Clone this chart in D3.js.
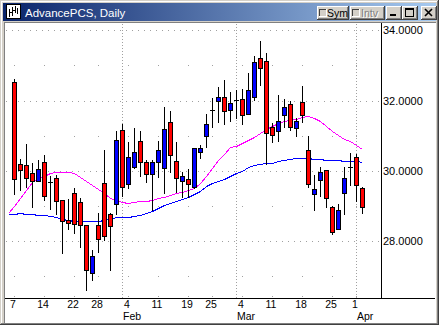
<!DOCTYPE html>
<html>
<head>
<meta charset="utf-8">
<script src="https://cdn.jsdelivr.net/npm/d3@7"></script>
<style>
body { margin: 0; background: #d4d0c8; }
svg { display: block; font-family: "Liberation Sans", Arial, sans-serif; }
</style>
</head>
<body>
<svg id="chart"></svg>
<script>
let title = "AdvancePCS, Daily"

let dates = [
  "2002-01-07","2002-01-08","2002-01-09","2002-01-10","2002-01-11",
  "2002-01-14","2002-01-15","2002-01-16","2002-01-17","2002-01-18",
  "2002-01-22","2002-01-23","2002-01-24","2002-01-25",
  "2002-01-28","2002-01-29","2002-01-30","2002-01-31","2002-02-01",
  "2002-02-04","2002-02-05","2002-02-06","2002-02-07","2002-02-08",
  "2002-02-11","2002-02-12","2002-02-13","2002-02-14","2002-02-15",
  "2002-02-19","2002-02-20","2002-02-21","2002-02-22",
  "2002-02-25","2002-02-26","2002-02-27","2002-02-28","2002-03-01",
  "2002-03-04","2002-03-05","2002-03-06","2002-03-07","2002-03-08",
  "2002-03-11","2002-03-12","2002-03-13","2002-03-14","2002-03-15",
  "2002-03-18","2002-03-19","2002-03-20","2002-03-21","2002-03-22",
  "2002-03-25","2002-03-26","2002-03-27","2002-03-28",
  "2002-04-01","2002-04-02"
]

let open = [32.53,30.19,30.16,29.93,29.71, 30.25,29.67,29.79,29.17,28.60,
  29.36,29.11,28.46,27.09, 28.46,29.65,28.76,29.06,31.17, 29.63,30.12,30.85,30.25,29.91,
  30.25,30.08,31.39,30.28,29.71, 29.77,29.55,30.53,31.00, 31.72,31.98,32.10,31.74,32.02,
  32.04,31.62,32.09,33.21,33.14, 31.26,31.14,31.59,31.90,31.23, 31.96,30.60,29.34,29.74,30.01,
  28.97,28.34,29.36,30.12, 30.39,29.51]
let high = [32.61,30.33,30.77,30.22,30.31, 30.46,29.84,29.88,29.17,29.19,
  29.52,29.22,28.46,27.73, 28.79,30.60,28.79,31.14,31.33, 30.81,31.22,31.14,30.31,30.31,
  30.86,31.81,31.71,30.83,29.96, 30.06,30.65,30.74,31.62, 32.07,32.38,32.59,32.24,32.31,
  32.33,32.78,33.28,33.70,33.35, 31.36,32.17,32.05,32.00,31.50, 32.42,31.00,29.89,30.11,30.01,
  29.00,29.06,30.11,30.50, 30.48,29.55]
let low = [29.34,29.46,29.54,28.98,29.70, 29.17,28.92,28.77,27.66,28.34,
  28.23,27.84,26.59,26.89, 27.70,28.03,27.16,28.77,29.27, 29.51,30.08,29.84,29.67,28.87,
  29.82,29.38,29.98,29.41,29.25, 29.25,29.51,30.36,30.69, 31.25,31.38,31.33,31.42,31.50,
  31.33,31.62,32.02,32.45,30.20, 30.83,30.85,31.26,31.15,30.98, 31.40,29.55,28.89,29.27,28.98,
  28.20,28.34,28.78,29.60, 29.13,28.79]
let close = [29.77,30.02,29.80,29.71,30.05, 29.28,29.67,29.13,28.58,28.51,
  28.49,28.46,27.17,27.56, 28.05,28.13,28.44,30.88,29.54, 30.39,30.53,30.25,29.91,30.25,
  30.60,31.20,30.45,29.79,29.86, 29.62,30.65,30.65,31.33, 31.72,32.10,31.70,31.93,32.02,
  31.59,32.29,33.10,32.93,31.07, 31.03,31.42,31.81,31.26,31.42, 31.58,29.62,29.48,29.96,29.22,
  28.25,28.89,29.79,30.12, 29.59,28.96]

// moving averages start one session before the first candle
let maFast = [28.81,29.00,29.23,29.46,29.67,29.79,29.86,29.93,29.96,29.98,29.97,
  29.93,29.81,29.72,29.60,29.47,29.37,29.22,29.17,29.12,29.08,29.10,29.13,29.15,29.17,
  29.22,29.26,29.30,29.36,29.40,29.44,29.52,29.66,29.86,30.09,30.31,30.48,30.67,30.71,
  30.80,30.87,30.97,31.08,31.18,31.28,31.36,31.41,31.44,31.48,31.54,31.57,31.51,31.41,
  31.28,31.13,31.01,30.91,30.84,30.74,30.63]
let maSlow = [28.77,28.78,28.79,28.77,28.76,28.75,28.73,28.70,28.68,28.64,28.60,
  28.58,28.56,28.56,28.56,28.57,28.59,28.63,28.69,28.69,28.68,28.70,28.75,28.80,28.86,
  28.95,29.03,29.09,29.15,29.20,29.26,29.34,29.43,29.56,29.66,29.72,29.77,29.84,29.93,
  30.00,30.10,30.16,30.20,30.21,30.23,30.27,30.30,30.33,30.36,30.36,30.36,30.35,30.33,
  30.32,30.31,30.30,30.28,30.28,30.27,30.26]

let yLabels = [28, 30, 32, 34]
let yMinor = [27, 29, 31, 33]
let monthNames = ["Jan","Feb","Mar","Apr","May","Jun","Jul","Aug","Sep","Oct","Nov","Dec"]

let W = 439, H = 325
let plotL = 5, plotR = 381, plotT = 24, plotB = 298

let svg = d3.select("#chart").attr("width", W).attr("height", H)

let parse = d3.utcParse("%Y-%m-%d")
let days = dates.map(parse)
let idx = d3.range(days.length)

let weekStarts = idx.filter(i => i == 0 || days[i].getUTCDay() < days[i-1].getUTCDay())
let monthStarts = idx.filter(i => i > 0 && days[i].getUTCMonth() != days[i-1].getUTCMonth())

let x = d3.scaleLinear().domain([-1, days.length - 1]).range([8, 362])
let y = d3.scaleLinear().domain([28, 34]).range([241, 30.4])
let px = i => Math.round(x(i))
let py = v => Math.round(y(v))

// window frame
let frame = svg.append("g").attr("shape-rendering", "crispEdges")
frame.append("rect").attr("width", W).attr("height", H).attr("fill", "#d4d0c8")
frame.append("rect").attr("x", 1).attr("y", 1).attr("width", W - 2).attr("height", 1).attr("fill", "#fff")
frame.append("rect").attr("x", 1).attr("y", 1).attr("width", 1).attr("height", H - 2).attr("fill", "#fff")
frame.append("rect").attr("x", W - 1).attr("y", 0).attr("width", 1).attr("height", H).attr("fill", "#404040")
frame.append("rect").attr("x", W - 2).attr("y", 1).attr("width", 1).attr("height", H - 2).attr("fill", "#808080")
frame.append("rect").attr("x", 0).attr("y", H - 1).attr("width", W).attr("height", 1).attr("fill", "#404040")
frame.append("rect").attr("x", 1).attr("y", H - 2).attr("width", W - 2).attr("height", 1).attr("fill", "#808080")

let grad = svg.append("defs").append("linearGradient").attr("id", "cap")
grad.append("stop").attr("offset", "0%").attr("stop-color", "#0a246a")
grad.append("stop").attr("offset", "100%").attr("stop-color", "#a6caf0")
frame.append("rect").attr("x", 3).attr("y", 3).attr("width", 433).attr("height", 18).attr("fill", "url(#cap)")

// icon
frame.append("rect").attr("x", 6).attr("y", 4).attr("width", 15).attr("height", 15).attr("fill", "#000")
frame.append("rect").attr("x", 7).attr("y", 5).attr("width", 13).attr("height", 13).attr("fill", "#fff")
let iconBars = [[9, 9, 8], [12, 7, 9], [15, 6, 7], [17, 8, 6]]
iconBars.forEach(b => frame.append("rect").attr("x", b[0]).attr("y", b[1]).attr("width", 1).attr("height", b[2]).attr("fill", "#000"))
frame.append("rect").attr("x", 10).attr("y", 12).attr("width", 2).attr("height", 1).attr("fill", "#000")
frame.append("rect").attr("x", 13).attr("y", 10).attr("width", 2).attr("height", 1).attr("fill", "#000")

svg.append("text").attr("x", 25).attr("y", 17).attr("fill", "#fff")
  .attr("font-size", 11.5).text(title)

let button = (bx, by, bw, bh) => {
  frame.append("rect").attr("x", bx).attr("y", by).attr("width", bw).attr("height", bh).attr("fill", "#404040")
  frame.append("rect").attr("x", bx).attr("y", by).attr("width", bw - 1).attr("height", bh - 1).attr("fill", "#fff")
  frame.append("rect").attr("x", bx + 1).attr("y", by + 1).attr("width", bw - 2).attr("height", bh - 2).attr("fill", "#808080")
  frame.append("rect").attr("x", bx + 1).attr("y", by + 1).attr("width", bw - 3).attr("height", bh - 3).attr("fill", "#d4d0c8")
}
button(317, 6, 32, 14)
button(350, 6, 35, 14)
button(386, 6, 16, 14)
button(402, 6, 16, 14)
button(421, 6, 16, 14)

let checkbox = (cx0) => {
  frame.append("rect").attr("x", cx0).attr("y", 9).attr("width", 8).attr("height", 8).attr("fill", "#fff")
  frame.append("rect").attr("x", cx0).attr("y", 9).attr("width", 7).attr("height", 7).attr("fill", "#404040")
  frame.append("rect").attr("x", cx0 + 1).attr("y", 10).attr("width", 6).attr("height", 6).attr("fill", "#d4d0c8")
}
checkbox(319)
checkbox(352)
svg.append("text").attr("x", 327).attr("y", 17).attr("font-size", 10.5).attr("fill", "#000").text("Sym")
svg.append("text").attr("x", 362).attr("y", 18).attr("font-size", 10.5).attr("fill", "#fff").text("Intv")
svg.append("text").attr("x", 361).attr("y", 17).attr("font-size", 10.5).attr("fill", "#808080").text("Intv")

frame.append("rect").attr("x", 390).attr("y", 14).attr("width", 6).attr("height", 2).attr("fill", "#000")
frame.append("rect").attr("x", 405).attr("y", 8).attr("width", 9).attr("height", 9).attr("fill", "#000")
frame.append("rect").attr("x", 406).attr("y", 10).attr("width", 7).attr("height", 6).attr("fill", "#d4d0c8")
svg.append("path").attr("d", "M425,9 L432,16 M432,9 L425,16")
  .attr("stroke", "#000").attr("stroke-width", 1.6).attr("fill", "none")

// client area
frame.append("rect").attr("x", 4).attr("y", 22).attr("width", 432).attr("height", 301).attr("fill", "#808080")
frame.append("rect").attr("x", 5).attr("y", 23).attr("width", 431).attr("height", 300).attr("fill", "#fff")
frame.append("rect").attr("x", 5).attr("y", 23).attr("width", 430).attr("height", 299).attr("fill", "#fff")

// grid
let grid = svg.append("g").attr("shape-rendering", "crispEdges")
grid.selectAll("line.major").data(yLabels).enter().append("line")
  .attr("x1", plotL + 1).attr("x2", plotR)
  .attr("y1", d => py(d) + 0.5).attr("y2", d => py(d) + 0.5)
  .attr("stroke", "#a0a0a0").attr("stroke-dasharray", "1,5")

let minorDots = []
yMinor.forEach(v => weekStarts.forEach(i => minorDots.push([i, v])))
grid.selectAll("rect.minor").data(minorDots).enter().append("rect")
  .attr("x", d => px(d[0])).attr("y", d => py(d[1]))
  .attr("width", 1).attr("height", 1).attr("fill", "#a0a0a0")

grid.selectAll("line.month").data(monthStarts).enter().append("line")
  .attr("x1", i => px(i) + 0.5).attr("x2", i => px(i) + 0.5)
  .attr("y1", plotT).attr("y2", plotB)
  .attr("stroke", "#a0a0a0").attr("stroke-dasharray", "1,2")

grid.selectAll("rect.tick").data(weekStarts).enter().append("rect")
  .attr("x", i => px(i)).attr("y", plotB - 2)
  .attr("width", 1).attr("height", 1).attr("fill", "#a0a0a0")

// moving averages
let line = d3.line().x((d, i) => px(i - 1) + 0.5).y(d => py(d) + 0.5)
svg.append("path").datum(maFast).attr("d", line)
  .attr("fill", "none").attr("stroke", "#ff00ff").attr("stroke-width", 1).attr("shape-rendering", "crispEdges")
svg.append("path").datum(maSlow).attr("d", line)
  .attr("fill", "none").attr("stroke", "#0000ff").attr("stroke-width", 1).attr("shape-rendering", "crispEdges")

// candles
let candles = svg.append("g").attr("shape-rendering", "crispEdges")
  .selectAll("g").data(idx).enter().append("g")

candles.append("rect")
  .attr("x", i => px(i)).attr("y", i => py(high[i]))
  .attr("width", 1).attr("height", i => py(low[i]) - py(high[i]) + 1)
  .attr("fill", "#000")
candles.append("rect")
  .attr("x", i => px(i) - 2).attr("y", i => Math.min(py(open[i]), py(close[i])))
  .attr("width", 5).attr("height", i => Math.abs(py(open[i]) - py(close[i])) + 1)
  .attr("fill", "#000")
candles.filter(i => Math.abs(py(open[i]) - py(close[i])) > 1).append("rect")
  .attr("x", i => px(i) - 1).attr("y", i => Math.min(py(open[i]), py(close[i])) + 1)
  .attr("width", 3).attr("height", i => Math.abs(py(open[i]) - py(close[i])) - 1)
  .attr("fill", i => close[i] > open[i] ? "#0000ff" : "#ff0000")

// axes
let axisLines = svg.append("g").attr("shape-rendering", "crispEdges")
axisLines.append("line").attr("x1", plotR + 0.5).attr("x2", plotR + 0.5).attr("y1", 23).attr("y2", plotB)
  .attr("stroke", "#000")
axisLines.append("line").attr("x1", 5).attr("x2", 435).attr("y1", plotB + 0.5).attr("y2", plotB + 0.5)
  .attr("stroke", "#000")

let yAxis = svg.append("g").attr("transform", `translate(${plotR},0)`)
  .call(d3.axisRight(y).tickValues(yLabels).tickFormat(d3.format(".4f")).tickSize(0).tickPadding(2))
yAxis.select(".domain").remove()
yAxis.selectAll("text").attr("font-size", 11).attr("font-family", "Liberation Sans, Arial, sans-serif").attr("fill", "#000")

let xAxis = svg.append("g").attr("transform", `translate(-1.5,${plotB})`)
  .call(d3.axisBottom(x).tickValues(weekStarts).tickFormat(i => days[i].getUTCDate()).tickSize(0).tickPadding(2.5))
xAxis.select(".domain").remove()
xAxis.selectAll("text").attr("font-size", 10.5).attr("font-family", "Liberation Sans, Arial, sans-serif").attr("fill", "#000")

svg.selectAll("text.month").data(monthStarts).enter().append("text")
  .attr("x", i => px(i) + 1).attr("y", 320)
  .attr("font-size", 10.5).attr("fill", "#000")
  .text(i => monthNames[days[i].getUTCMonth()])
</script>
</body>
</html>
